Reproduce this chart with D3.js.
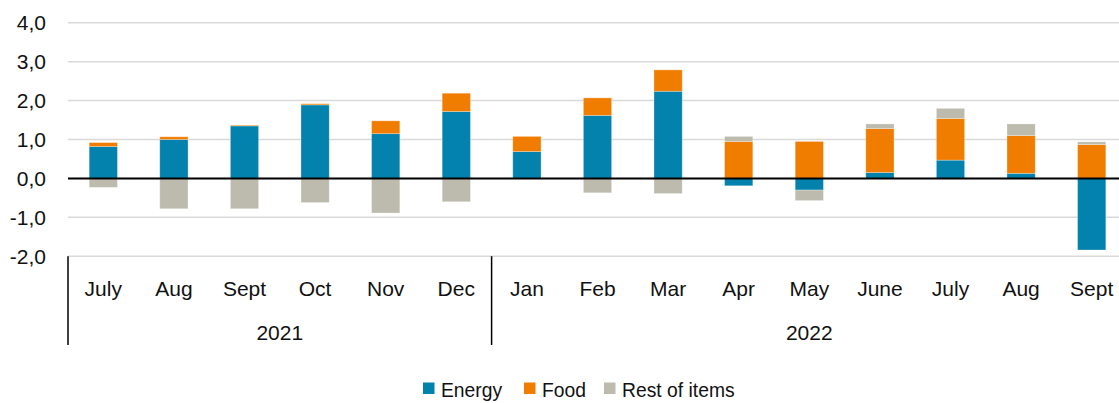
<!DOCTYPE html>
<html><head><meta charset="utf-8">
<script src="https://cdn.jsdelivr.net/npm/d3@7"></script>
<style>
html,body{margin:0;padding:0;background:#fff;}
svg{display:block;font-family:"Liberation Sans",Arial,sans-serif;}
</style></head>
<body><svg id="c" width="1119" height="403"></svg>
<script>
const months = ["July","Aug","Sept","Oct","Nov","Dec","Jan","Feb","Mar","Apr","May","June","July","Aug","Sept"];
const years = ["2021","2022"];
const yearCounts = [6, 9];
const energy = [0.82, 1.00, 1.35, 1.89, 1.15, 1.72, 0.69, 1.62, 2.24, -0.19, -0.30, 0.15, 0.47, 0.13, -1.84];
const food   = [0.10, 0.07, 0.02, 0.03, 0.33, 0.47, 0.39, 0.45, 0.55, 0.95, 0.95, 1.13, 1.07, 0.97, 0.87];
const rest   = [-0.23, -0.78, -0.78, -0.62, -0.89, -0.60, 0.00, -0.37, -0.39, 0.13, -0.27, 0.12, 0.26, 0.30, 0.07];
const seriesNames = ["Energy","Food","Rest of items"];
const colors = ["#0382ad","#f07d00","#bdbbad"];
const yTicks = [-2,-1,0,1,2,3,4];

const svg = d3.select("#c");
const left = 68, right = 1127;
const keys = d3.range(months.length);
const x = d3.scaleBand().domain(keys).range([left, right]).paddingInner(0.6).paddingOuter(0.3);
const y = d3.scaleLinear().domain([-2, 4]).range([256.2, 22.8]);

// gridlines
svg.append("g").selectAll("line").data(yTicks).join("line")
  .attr("x1", left).attr("x2", 1119)
  .attr("y1", d => y(d)).attr("y2", d => y(d))
  .attr("stroke", "#d9d9d9").attr("stroke-width", 1.5);

// y labels
const fmt = d => d3.format(".1f")(d).replace(".", ",").replace("−","-");
svg.append("g").selectAll("text").data(yTicks).join("text")
  .attr("x", 46).attr("y", d => y(d)).attr("dy", "0.35em")
  .attr("text-anchor", "end").attr("font-size", 21).attr("fill", "#111")
  .text(fmt);

// stacked bars
const rows = keys.map(i => ({i, e: energy[i], f: food[i], r: rest[i]}));
const stack = d3.stack().keys(["e","f","r"]).offset(d3.stackOffsetDiverging);
const stacked = stack(rows);
svg.append("g").selectAll("g").data(stacked).join("g")
  .attr("fill", (d, k) => colors[k])
  .selectAll("rect").data(d => d).join("rect")
  .attr("x", d => x(d.data.i))
  .attr("width", x.bandwidth())
  .attr("y", d => y(Math.max(d[0], d[1])))
  .attr("height", d => Math.abs(y(d[0]) - y(d[1])))
  .attr("stroke", "#ffffff").attr("stroke-opacity", 0.35).attr("stroke-width", 0.8);

// zero line
svg.append("line").attr("x1", left).attr("x2", 1119)
  .attr("y1", y(0)).attr("y2", y(0)).attr("stroke", "#000").attr("stroke-width", 2);

// x axis month labels
svg.append("g").selectAll("text").data(keys).join("text")
  .attr("x", d => x(d) + x.bandwidth() / 2).attr("y", 296)
  .attr("text-anchor", "middle").attr("font-size", 21).attr("fill", "#111")
  .text(d => months[d]);

// year groups and separators
let start = 0;
yearCounts.forEach((c, k) => {
  const x0 = x.step() * start + left;
  const x1 = x.step() * (start + c) + left;
  svg.append("text").attr("x", (x0 + x1) / 2).attr("y", 340)
    .attr("text-anchor", "middle").attr("font-size", 21).attr("fill", "#111")
    .text(years[k]);
  svg.append("line").attr("x1", x0).attr("x2", x0).attr("y1", y(-2)).attr("y2", 345)
    .attr("stroke", "#000").attr("stroke-width", 1.5);
  start += c;
});

// legend
const legX = [423, 524, 604];
const lg = svg.append("g");
seriesNames.forEach((n, k) => {
  lg.append("rect").attr("x", legX[k]).attr("y", 382.5).attr("width", 11.5).attr("height", 11.5).attr("fill", colors[k]);
  lg.append("text").attr("transform", `translate(${legX[k] + 18},397) scale(0.92,1)`)
    .attr("font-size", 21).attr("fill", "#111").text(n);
});
</script></body></html>
